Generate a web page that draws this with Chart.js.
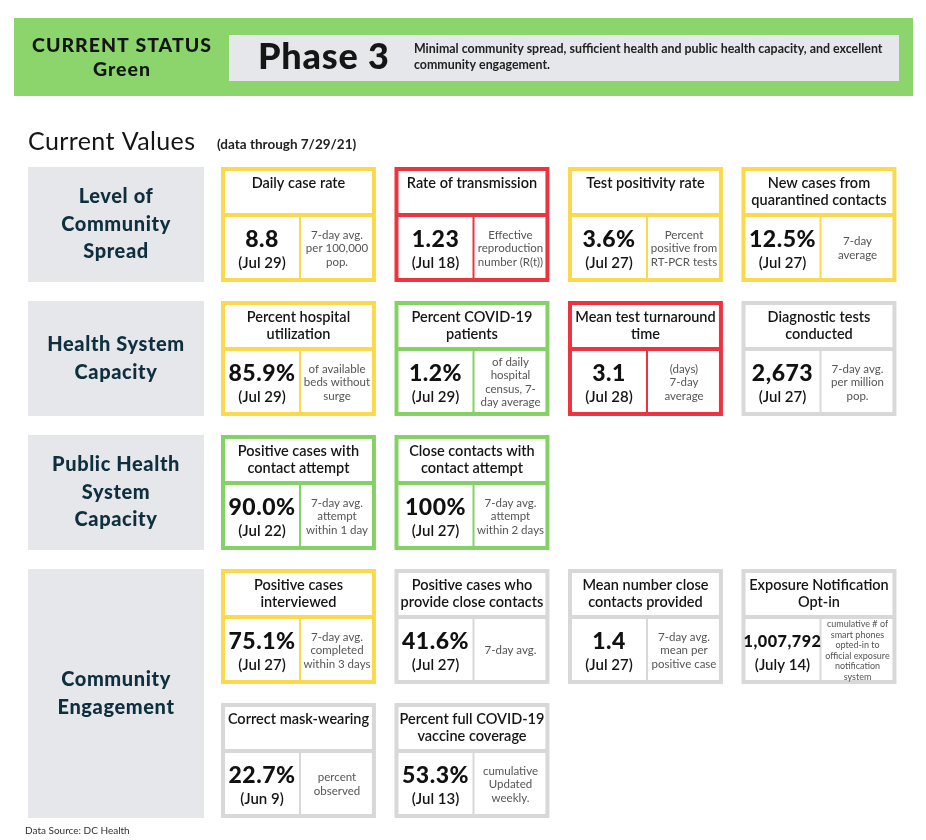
<!DOCTYPE html>
<html>
<head>
<meta charset="utf-8">
<title>Current Status</title>
<script src="https://cdn.jsdelivr.net/npm/chart.js@4.4.1/dist/chart.umd.min.js"></script>
<style>
  html, body { margin: 0; padding: 0; background: #fff; }
  #board { display: block; }
</style>
</head>
<body>
<canvas id="board" width="926" height="840"></canvas>
<script>
// Values
const statusName = 'Green';
const phaseLabel = 'Phase 3';
const phaseText = ['Minimal community spread, sufficient health and public health capacity, and excellent', 'community engagement.'];
const dataThrough = '7/29/21';
const dataSource = 'Data Source: DC Health';

const categoryLines = [
  ['Level of', 'Community', 'Spread'],
  ['Health System', 'Capacity'],
  ['Public Health', 'System', 'Capacity'],
  ['Community', 'Engagement']
];
const categoryStart = [0, 1, 2, 3];
const categoryEnd = [1, 2, 3, 5];

const metricTitles = [
  ['Daily case rate'],
  ['Rate of transmission'],
  ['Test positivity rate'],
  ['New cases from', 'quarantined contacts'],
  ['Percent hospital', 'utilization'],
  ['Percent COVID-19', 'patients'],
  ['Mean test turnaround', 'time'],
  ['Diagnostic tests', 'conducted'],
  ['Positive cases with', 'contact attempt'],
  ['Close contacts with', 'contact attempt'],
  ['Positive cases', 'interviewed'],
  ['Positive cases who', 'provide close contacts'],
  ['Mean number close', 'contacts provided'],
  ['Exposure Notification', 'Opt-in'],
  ['Correct mask-wearing'],
  ['Percent full COVID-19', 'vaccine coverage']
];
const metricValues = [8.8, 1.23, 3.6, 12.5, 85.9, 1.2, 3.1, 2673, 90.0, 100, 75.1, 41.6, 1.4, 1007792, 22.7, 53.3];
const metricDecimals = [1, 2, 1, 1, 1, 1, 1, 0, 1, 0, 1, 1, 1, 0, 1, 1];
const metricUnits = ['', '', '%', '%', '%', '%', '', '', '%', '%', '%', '%', '', '', '%', '%'];
const metricDates = ['Jul 29', 'Jul 18', 'Jul 27', 'Jul 27', 'Jul 29', 'Jul 29', 'Jul 28', 'Jul 27',
  'Jul 22', 'Jul 27', 'Jul 27', 'Jul 27', 'Jul 27', 'July 14', 'Jun 9', 'Jul 13'];
const metricNotes = [
  ['7-day avg.', 'per 100,000', 'pop.'],
  ['Effective', 'reproduction', 'number (R(t))'],
  ['Percent', 'positive from', 'RT-PCR tests'],
  ['7-day', 'average'],
  ['of available', 'beds without', 'surge'],
  ['of daily', 'hospital', 'census, 7-', 'day average'],
  ['(days)', '7-day', 'average'],
  ['7-day avg.', 'per million', 'pop.'],
  ['7-day avg.', 'attempt', 'within 1 day'],
  ['7-day avg.', 'attempt', 'within 2 days'],
  ['7-day avg.', 'completed', 'within 3 days'],
  ['7-day avg.'],
  ['7-day avg.', 'mean per', 'positive case'],
  ['cumulative # of', 'smart phones', 'opted-in to', 'official exposure', 'notification', 'system'],
  ['percent', 'observed'],
  ['cumulative', 'Updated', 'weekly.']
];
const metricStatus = ['yellow', 'red', 'yellow', 'yellow', 'yellow', 'green', 'red', 'gray',
  'green', 'green', 'yellow', 'gray', 'gray', 'gray', 'gray', 'gray'];
const metricColumn = [0, 1, 2, 3, 0, 1, 2, 3, 0, 1, 0, 1, 2, 3, 0, 1];
const metricRow = [0, 0, 0, 0, 1, 1, 1, 1, 2, 2, 3, 3, 3, 3, 4, 4];

// Look
const statusColors = { yellow: '#fbd94d', red: '#ec3440', green: '#84d265', gray: '#d8d8d8' };
const cardSpanX = 0.893;   // card width in column units
const cardSpanY = 0.858;   // card height in row units
const labelFrom = -1.112;  // row-label box in column units
const labelTo = -0.098;
const FONT = 'Lato, "Noto Sans", sans-serif';
const INK = '#151515';
const TEAL = '#0e2f3d';

function formatValue(i) {
  return metricValues[i].toLocaleString('en-US', {
    minimumFractionDigits: metricDecimals[i],
    maximumFractionDigits: metricDecimals[i]
  }) + metricUnits[i];
}

function text(ctx, str, x, y, font, color, align) {
  ctx.font = font;
  ctx.fillStyle = color;
  ctx.textAlign = align || 'center';
  ctx.textBaseline = 'middle';
  ctx.fillText(str, x, y);
}

function drawHeader(ctx) {
  ctx.fillStyle = '#8bd56c';
  ctx.fillRect(14, 18, 899, 78);
  ctx.fillStyle = '#e6e7eb';
  ctx.fillRect(229, 35, 670, 46);
  ctx.letterSpacing = '1px';
  text(ctx, 'CURRENT STATUS', 122, 46, '900 19.5px ' + FONT, INK);
  text(ctx, statusName, 122, 70, '900 19.5px ' + FONT, INK);
  ctx.letterSpacing = '0.8px';
  text(ctx, phaseLabel, 258, 57, '900 36px ' + FONT, INK, 'left');
  ctx.letterSpacing = '0px';
  phaseText.forEach((line, k) => text(ctx, line, 414, 48.5 + k * 16.5, 'bold 12.4px ' + FONT, '#222', 'left'));
  ctx.letterSpacing = '0.4px';
  text(ctx, 'Current Values', 28, 141.5, '25px ' + FONT, INK, 'left');
  ctx.letterSpacing = '0px';
  text(ctx, '(data through ' + dataThrough + ')', 217, 145, 'bold 13.5px ' + FONT, '#222', 'left');
  text(ctx, dataSource, 25, 831, '10px ' + FONT, '#333', 'left');
}

function drawCard(ctx, i, x, y, w, h) {
  ctx.fillStyle = statusColors[metricStatus[i]];
  ctx.fillRect(x, y, w, h);
  ctx.fillStyle = '#fff';
  ctx.fillRect(x + 4, y + 4, w - 8, 42);
  ctx.fillRect(x + 4, y + 50, 74, h - 54);
  ctx.fillRect(x + 80, y + 50, w - 84, h - 54);

  metricTitles[i].forEach((line, k) => text(ctx, line, x + w / 2, y + 16 + k * 17, '600 14.5px ' + FONT, INK));

  // value, shrunk if it would not fit the left cell
  let size = 23;
  const val = formatValue(i);
  ctx.letterSpacing = '0.5px';
  ctx.font = '900 ' + size + 'px ' + FONT;
  const wv = ctx.measureText(val).width;
  if (wv > 77) size = Math.floor(size * 77 / wv * 10) / 10;
  text(ctx, val, x + 41, y + 73, '900 ' + size + 'px ' + FONT, '#111');
  ctx.letterSpacing = '0px';
  text(ctx, '(' + metricDates[i] + ')', x + 41, y + 96, '600 15px ' + FONT, INK);

  const notes = metricNotes[i];
  const small = notes.length > 4;
  const lh = small ? 10.6 : 13.5;
  const fs = small ? 9 : 11.5;
  const cy = y + 81.5 - (notes.length - 1) * lh / 2;
  notes.forEach((line, k) => text(ctx, line, x + 116, cy + k * lh, fs + 'px ' + FONT, '#555'));
}

const boardPlugin = {
  id: 'board',
  afterDatasetsDraw(chart) {
    const ctx = chart.ctx;
    const xs = chart.scales.x;
    const ys = chart.scales.y;
    ctx.save();
    drawHeader(ctx);

    // row labels on the left
    categoryLines.forEach((lines, i) => {
      const left = xs.getPixelForValue(labelFrom);
      const right = xs.getPixelForValue(labelTo);
      const top = ys.getPixelForValue(categoryStart[i]);
      const bottom = ys.getPixelForValue(categoryEnd[i] - 1 + cardSpanY);
      ctx.fillStyle = '#e6e7eb';
      ctx.fillRect(left, top, right - left, bottom - top);
      const cy = (top + bottom) / 2 - (lines.length - 1) * 27.5 / 2;
      ctx.letterSpacing = '0.6px';
      lines.forEach((line, k) => text(ctx, line, (left + right) / 2, cy + k * 27.5, '900 20px ' + FONT, TEAL));
      ctx.letterSpacing = '0px';
    });

    // metric cards, anchored on the dataset points
    const meta = chart.getDatasetMeta(0);
    meta.data.forEach((pt, i) => {
      const w = xs.getPixelForValue(metricColumn[i] + cardSpanX) - pt.x;
      const h = ys.getPixelForValue(metricRow[i] + cardSpanY) - pt.y;
      drawCard(ctx, i, pt.x, pt.y, w, h);
    });
    ctx.restore();
  }
};

const ctx = document.getElementById('board').getContext('2d');
new Chart(ctx, {
  type: 'scatter',
  data: {
    datasets: [{
      label: 'Metrics',
      data: metricColumn.map((c, i) => ({ x: c, y: metricRow[i] })),
      pointRadius: 0,
      pointHoverRadius: 0
    }]
  },
  options: {
    responsive: false,
    animation: false,
    events: [],
    layout: { padding: { left: 221, right: 11, top: 167, bottom: 3 } },
    scales: {
      x: { type: 'linear', min: 0, max: 4, display: false },
      y: { type: 'linear', min: 0, max: 5, reverse: true, display: false }
    },
    plugins: {
      legend: { display: false },
      tooltip: { enabled: false }
    }
  },
  plugins: [boardPlugin]
});
</script>
</body>
</html>
